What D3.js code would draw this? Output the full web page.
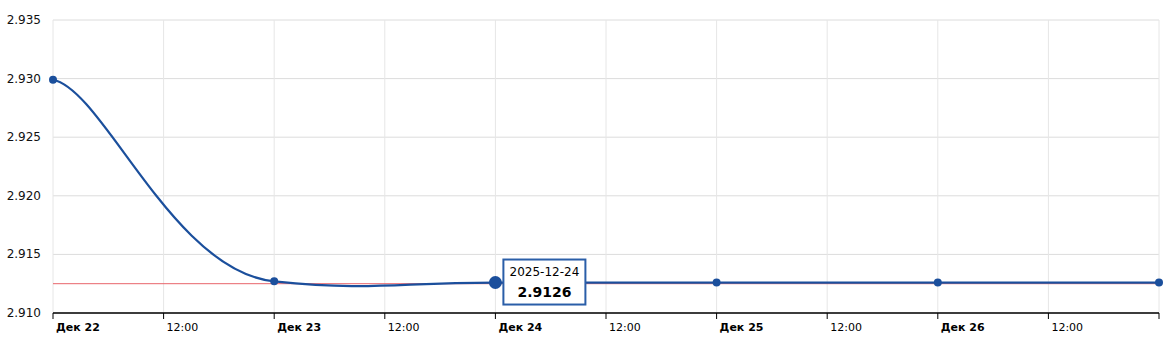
<!DOCTYPE html>
<html>
<head>
<meta charset="utf-8">
<script src="https://cdn.jsdelivr.net/npm/d3@7"></script>
<style>
  body { margin: 0; background: #fff; }
  svg { display: block; font-family: 'DejaVu Sans', Verdana, sans-serif; }
</style>
</head>
<body>
<svg width="1175" height="344"></svg>
<script>
const dates = ['2025-12-22', '2025-12-23', '2025-12-24', '2025-12-25', '2025-12-26', '2025-12-27'];
const rates = [2.9299, 2.9127, 2.9126, 2.9126, 2.9126, 2.9126];
const refLevel = 2.9125;
const yTicks = [2.91, 2.915, 2.92, 2.925, 2.93, 2.935];
const monthLabel = 'Дек';
const activeIndex = 2;

const parse = d3.timeParse('%Y-%m-%d');
const data = dates.map((d, i) => ({ date: parse(d), value: rates[i] }));

const svg = d3.select('svg'),
  margin = { top: 20, right: 16, bottom: 31, left: 53 },
  width = 1175 - margin.left - margin.right,
  height = 344 - margin.top - margin.bottom;

const x = d3.scaleTime().domain([data[0].date, data[data.length - 1].date]).range([0, width]);
const y = d3.scaleLinear().domain([2.91, 2.935]).range([height, 0]);

// tension spline (separate x / y tension), ends use duplicated points
function tensionCurve(tx, ty) {
  const kx = 1 - tx, ky = 1 - ty;
  return function (context) {
    let pts;
    return {
      lineStart() { pts = []; },
      lineEnd() {
        const n = pts.length;
        if (!n) return;
        context.moveTo(pts[0][0], pts[0][1]);
        for (let i = 0; i < n - 1; i++) {
          const p0 = pts[Math.max(i - 1, 0)], p1 = pts[i],
            p2 = pts[i + 1], p3 = pts[Math.min(i + 2, n - 1)];
          context.bezierCurveTo(
            p1[0] + (p2[0] - p0[0]) * kx, p1[1] + (p2[1] - p0[1]) * ky,
            p2[0] - (p3[0] - p1[0]) * kx, p2[1] - (p3[1] - p1[1]) * ky,
            p2[0], p2[1]
          );
        }
      },
      areaStart() {},
      areaEnd() {},
      point(px, py) { pts.push([px, py]); }
    };
  };
}

const g = svg.append('g').attr('transform', `translate(${margin.left},${margin.top})`);

const xTicks = d3.timeHour.every(12).range(x.domain()[0], d3.timeHour.offset(x.domain()[1], 1));

// grid
g.selectAll('.hgrid')
  .data(yTicks)
  .enter()
  .append('line')
  .attr('x1', 0)
  .attr('x2', width)
  .attr('y1', (d) => y(d))
  .attr('y2', (d) => y(d))
  .attr('stroke', '#dcdcdc');

g.selectAll('.vgrid')
  .data(xTicks)
  .enter()
  .append('line')
  .attr('x1', (d) => x(d))
  .attr('x2', (d) => x(d))
  .attr('y1', 0)
  .attr('y2', height)
  .attr('stroke', '#e6e6e6');

// y labels
g.selectAll('.ylab')
  .data(yTicks)
  .enter()
  .append('text')
  .attr('x', -12)
  .attr('y', (d) => y(d) + 4)
  .attr('text-anchor', 'end')
  .attr('font-size', '12px')
  .attr('fill', '#111')
  .text((d) => d.toFixed(3));

// x axis
const xAxis = g.append('g').attr('transform', `translate(0,${height})`);
xAxis.append('line').attr('x1', 0).attr('x2', width).attr('stroke', '#000').attr('stroke-width', 1.5);
xAxis.selectAll('.tick')
  .data(xTicks)
  .enter()
  .append('line')
  .attr('x1', (d) => x(d))
  .attr('x2', (d) => x(d))
  .attr('y1', 0)
  .attr('y2', 6)
  .attr('stroke', '#000');
xAxis.selectAll('.xlab')
  .data(xTicks.slice(0, -1))
  .enter()
  .append('text')
  .attr('x', (d) => x(d) + 3)
  .attr('y', 18)
  .attr('font-size', '11px')
  .attr('fill', '#000')
  .attr('font-weight', (d) => (d.getHours() === 0 ? 'bold' : 'normal'))
  .text((d) => (d.getHours() === 0 ? `${monthLabel} ${d.getDate()}` : d3.timeFormat('%H:%M')(d)));

// reference line
g.append('line')
  .attr('x1', 0)
  .attr('x2', width)
  .attr('y1', y(refLevel))
  .attr('y2', y(refLevel))
  .attr('stroke', '#e8646a')
  .attr('stroke-width', 1);

// series line
const line = d3.line()
  .x((d) => x(d.date))
  .y((d) => y(d.value))
  .curve(tensionCurve(0.77, 0.95));

g.append('path')
  .datum(data)
  .attr('fill', 'none')
  .attr('stroke', '#1b4f9c')
  .attr('stroke-width', 2.2)
  .attr('d', line);

g.selectAll('.dot')
  .data(data)
  .enter()
  .append('circle')
  .attr('cx', (d) => x(d.date))
  .attr('cy', (d) => y(d.value))
  .attr('r', (d, i) => (i === activeIndex ? 6.5 : 4))
  .attr('fill', '#1b4f9c');

// tooltip
const a = data[activeIndex];
const tx = x(a.date) + 8, ty = y(a.value) - 23;
const tip = g.append('g').attr('transform', `translate(${tx},${ty})`);
tip.append('rect')
  .attr('width', 82)
  .attr('height', 45)
  .attr('fill', '#fff')
  .attr('stroke', '#2a5ea8')
  .attr('stroke-width', 2);
tip.append('text')
  .attr('x', 41)
  .attr('y', 16)
  .attr('text-anchor', 'middle')
  .attr('font-size', '12px')
  .attr('fill', '#000')
  .text(dates[activeIndex]);
tip.append('text')
  .attr('x', 41)
  .attr('y', 37)
  .attr('text-anchor', 'middle')
  .attr('font-size', '14px')
  .attr('font-weight', 'bold')
  .attr('fill', '#000')
  .text(a.value.toFixed(4));
</script>
</body>
</html>
